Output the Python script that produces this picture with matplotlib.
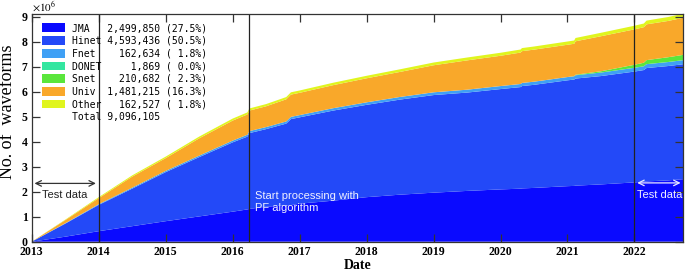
import matplotlib
matplotlib.use("Agg")
import matplotlib.pyplot as plt
from matplotlib.patches import Patch

# cumulative number of waveforms (millions)
years = [2013.0, 2013.5, 2014.0, 2014.5, 2015.0, 2015.5, 2016.0, 2016.22, 2016.25,
         2016.5, 2016.8, 2016.87, 2017.0, 2017.5, 2018.0, 2018.5, 2019.0, 2019.5,
         2020.0, 2020.3, 2020.32, 2020.5, 2021.0, 2021.1, 2021.12, 2021.5,
         2022.0, 2022.14, 2022.18, 2022.5, 2022.73]

jma = [0, 0.20, 0.42, 0.62, 0.82, 1.01, 1.20, 1.29, 1.31, 1.40, 1.45, 1.46, 1.52,
       1.64, 1.78, 1.88, 1.96, 2.03, 2.09, 2.12, 2.13, 2.15, 2.22, 2.23, 2.24, 2.29,
       2.37, 2.40, 2.41, 2.45, 2.49985]
hinet = [0, 0.52, 1.05, 1.50, 1.96, 2.37, 2.77, 2.91, 3.03, 3.10, 3.27, 3.44, 3.45,
         3.60, 3.69, 3.80, 3.90, 3.93, 4.01, 4.06, 4.09, 4.12, 4.23, 4.25, 4.28, 4.33,
         4.43, 4.46, 4.53, 4.57, 4.593436]
fnet = [0, 0.015, 0.03, 0.04, 0.05, 0.06, 0.07, 0.075, 0.08, 0.082, 0.085, 0.088,
        0.09, 0.095, 0.10, 0.105, 0.11, 0.115, 0.12, 0.123, 0.124, 0.125, 0.13,
        0.131, 0.132, 0.14, 0.15, 0.152, 0.155, 0.16, 0.162634]
donet = [0, 0, 0, 0, 0, 0, 0, 0, 0.0002, 0.0003, 0.0004, 0.0004, 0.0005, 0.0006,
         0.0007, 0.0008, 0.0009, 0.001, 0.0011, 0.0012, 0.0012, 0.0013, 0.0014,
         0.0015, 0.0015, 0.0016, 0.0017, 0.0017, 0.0018, 0.0018, 0.001869]
snet = [0, 0, 0, 0, 0, 0, 0, 0, 0, 0, 0, 0, 0, 0, 0, 0, 0, 0, 0, 0, 0, 0, 0,
        0.005, 0.02, 0.05, 0.12, 0.14, 0.16, 0.19, 0.210682]
univ = [0, 0.125, 0.24, 0.44, 0.51, 0.69, 0.80, 0.81, 0.82, 0.83, 0.885, 0.89,
        0.89, 0.92, 0.96, 1.00, 1.08, 1.17, 1.21, 1.255, 1.27, 1.28, 1.29, 1.293,
        1.336, 1.40, 1.415, 1.42, 1.43, 1.45, 1.481215]
other = [0, 0.02, 0.04, 0.05, 0.06, 0.07, 0.08, 0.082, 0.085, 0.088, 0.09, 0.092,
         0.093, 0.097, 0.10, 0.105, 0.11, 0.115, 0.12, 0.122, 0.123, 0.125, 0.13,
         0.131, 0.132, 0.138, 0.145, 0.147, 0.15, 0.157, 0.162527]

names = ['JMA', 'Hinet', 'Fnet', 'DONET', 'Snet', 'Univ', 'Other']
totals = [2499850, 4593436, 162634, 1869, 210682, 1481215, 162527]
grand_total = 9096105
colors = ['#0a0aff', '#2349f8', '#3fa0f5', '#33e6a0', '#5ae63c', '#f9a82a', '#e0f51e']

plt.rcParams['font.family'] = ['Liberation Serif', 'DejaVu Serif']
plt.rcParams['mathtext.fontset'] = 'stix'

fig = plt.figure(figsize=(6.85, 2.71), dpi=100)
ax = fig.add_axes([0.0463, 0.1081, 0.9513, 0.8402])

ax.stackplot(years, jma, hinet, fnet, donet, snet, univ, other,
             colors=colors, linewidth=0)

for xv in [2014.0, 2016.24, 2022.0]:
    ax.axvline(xv, color='#222222', lw=0.9)

# annotations
ax.annotate('', xy=(2013.0, 2.33), xytext=(2014.0, 2.33),
            arrowprops=dict(arrowstyle='<->', color='#333333', lw=0.9))
ax.text(2013.15, 1.86, 'Test data', family='Liberation Sans', fontsize=8,
        color='#222222', va='center')
ax.text(2016.33, 1.6, 'Start processing with\nPF algorithm', family='Liberation Sans',
        fontsize=8, color='#f0f0ff', va='center', linespacing=1.25)
ax.annotate('', xy=(2022.0, 2.35), xytext=(2022.73, 2.35),
            arrowprops=dict(arrowstyle='<->', color='#e8e8ff', lw=0.9))
ax.text(2022.04, 1.86, 'Test data', family='Liberation Sans', fontsize=8,
        color='#f0f0ff', va='center')

# legend with counts
labels = []
for n, t in zip(names, totals):
    labels.append(f"{n:<5} {t:>9,} ({100 * t / grand_total:>4.1f}%)")
handles = [Patch(facecolor=c, edgecolor='none') for c in colors]
handles.append(Patch(facecolor='none', edgecolor='none'))
labels.append(f"Total {grand_total:,}")
ax.legend(handles, labels, loc='upper left', frameon=False,
          prop={'family': 'DejaVu Sans Mono', 'size': 7},
          handlelength=2.4, handleheight=1.0, handletextpad=0.7,
          labelspacing=0.28, borderaxespad=0.3, bbox_to_anchor=(0.005, 0.99))

ax.set_xlim(2013.0, 2022.73)
ax.set_ylim(0, 9.1)
ax.set_xticks(range(2013, 2023))
ax.set_yticks(range(0, 10))
ax.tick_params(direction='in', length=6, width=0.9, top=True, right=True,
               labelsize=8.5, color='#333333', pad=3)
for lab in ax.get_xticklabels() + ax.get_yticklabels():
    lab.set_fontweight('bold')
for s in ax.spines.values():
    s.set_color('#333333')
    s.set_linewidth(0.9)

ax.set_xlabel('Date', fontsize=10, fontweight='bold', labelpad=1)
ax.set_ylabel('No. of  waveforms', fontsize=13)
ax.yaxis.set_label_coords(-0.024, 0.57)
ax.text(0.0, 1.0, r'$\times10^{6}$', transform=ax.transAxes, fontsize=8,
        va='bottom', ha='left')

fig.savefig('out.png', dpi=100)
